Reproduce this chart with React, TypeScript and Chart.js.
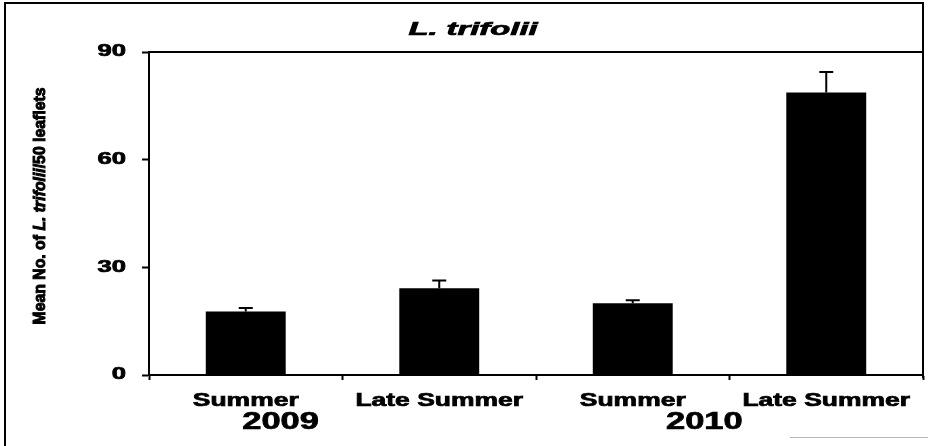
import React, { useEffect, useRef } from "react";
import { Chart, registerables } from "chart.js";

Chart.register(...registerables);

const categories = ["Summer", "Late Summer", "Summer", "Late Summer"];
const meanValues = [17.7, 24.2, 20.0, 78.7];
const errorValues = [1.0, 2.1, 0.8, 5.7];
const years = ["2009", "2010"];
const yearIndexPositions = [0.18, 2.37];
const yMin = 0;
const yMax = 90;
const yStep = 30;
const chartTitle = "L. trifolii";
const yTitleParts: [string, boolean][] = [
  ["Mean No. of ", false],
  ["L. trifolii", true],
  ["/50 leaflets", false],
];

const FAMILY = '"Liberation Sans", Arial, sans-serif';

function drawStretched(
  ctx: CanvasRenderingContext2D,
  text: string,
  x: number,
  y: number,
  font: string,
  stretch: number,
  align: "left" | "center" | "right"
) {
  ctx.save();
  ctx.font = font;
  ctx.textBaseline = "middle";
  ctx.textAlign = "left";
  const w = ctx.measureText(text).width * stretch;
  const x0 = align === "center" ? x - w / 2 : align === "right" ? x - w : x;
  ctx.translate(x0, y);
  ctx.scale(stretch, 1);
  ctx.fillStyle = "#000";
  ctx.strokeStyle = "#000";
  ctx.lineWidth = 0.7;
  ctx.fillText(text, 0, 0);
  ctx.strokeText(text, 0, 0);
  ctx.restore();
}

const decorPlugin = {
  id: "decor",
  afterDraw(chart: any) {
    const ctx: CanvasRenderingContext2D = chart.ctx;
    const area = chart.chartArea;
    const xs = chart.scales.x;
    const ys = chart.scales.y;

    ctx.save();
    ctx.strokeStyle = "#000";
    ctx.lineWidth = 2;
    // outer frame (left, top, right)
    ctx.beginPath();
    ctx.moveTo(5, 446);
    ctx.lineTo(5, 3);
    ctx.lineTo(area.right, 3);
    ctx.lineTo(area.right, area.bottom + 3);
    ctx.stroke();
    // plot top border
    ctx.beginPath();
    ctx.moveTo(area.left - 1, area.top);
    ctx.lineTo(area.right, area.top);
    ctx.stroke();
    // faint scan line bottom right
    ctx.strokeStyle = "#b8b8b8";
    ctx.lineWidth = 1;
    ctx.beginPath();
    ctx.moveTo(790, 437.5);
    ctx.lineTo(928, 437.5);
    ctx.stroke();
    ctx.restore();

    // title
    drawStretched(ctx, chartTitle, 473, 30, `italic bold 18px ${FAMILY}`, 1.82, "center");

    // y tick labels
    ys.ticks.forEach((t: any) => {
      const py = ys.getPixelForValue(t.value);
      drawStretched(ctx, String(t.value), 126, py, `bold 16px ${FAMILY}`, 1.6, "right");
    });

    // x category labels
    categories.forEach((c, i) => {
      const px = xs.getPixelForValue(i);
      drawStretched(ctx, c, px, 401, `bold 18px ${FAMILY}`, 1.47, "center");
    });

    // year labels
    years.forEach((yr, i) => {
      const px = xs.getPixelForValue(yearIndexPositions[i]);
      drawStretched(ctx, yr, px, 423, `bold 23px ${FAMILY}`, 1.5, "center");
    });

    // y axis title (rotated, mixed italic, condensed)
    ctx.save();
    const fontN = `bold 17px ${FAMILY}`;
    const fontI = `italic bold 17px ${FAMILY}`;
    let total = 0;
    const widths = yTitleParts.map(([s, it]) => {
      ctx.font = it ? fontI : fontN;
      const w = ctx.measureText(s).width;
      total += w;
      return w;
    });
    const targetLen = 237;
    const stretch = targetLen / total;
    ctx.translate(40, 206);
    ctx.rotate(-Math.PI / 2);
    ctx.scale(stretch, 1);
    ctx.textBaseline = "middle";
    ctx.textAlign = "left";
    ctx.fillStyle = "#000";
    ctx.strokeStyle = "#000";
    ctx.lineWidth = 1;
    let cx = -total / 2;
    yTitleParts.forEach(([s, it], i) => {
      ctx.font = it ? fontI : fontN;
      ctx.fillText(s, cx, 0);
      ctx.strokeText(s, cx, 0);
      cx += widths[i];
    });
    ctx.restore();
  },
  afterDatasetsDraw(chart: any) {
    const ctx: CanvasRenderingContext2D = chart.ctx;
    const ys = chart.scales.y;
    const meta = chart.getDatasetMeta(0);
    ctx.save();
    ctx.strokeStyle = "#000";
    ctx.lineWidth = 2;
    meta.data.forEach((bar: any, i: number) => {
      const top = ys.getPixelForValue(meanValues[i]);
      const up = ys.getPixelForValue(meanValues[i] + errorValues[i]);
      ctx.beginPath();
      ctx.moveTo(bar.x, top);
      ctx.lineTo(bar.x, up);
      ctx.moveTo(bar.x - 7, up);
      ctx.lineTo(bar.x + 7, up);
      ctx.stroke();
    });
    ctx.restore();
  },
};

export default function App() {
  const ref = useRef<HTMLCanvasElement | null>(null);
  useEffect(() => {
    document.body.style.margin = "0";
    const canvas = ref.current!;
    const chart = new Chart(canvas, {
      type: "bar",
      data: {
        labels: categories,
        datasets: [
          {
            data: meanValues,
            backgroundColor: "#000",
            borderWidth: 0,
            categoryPercentage: 1,
            barPercentage: 0.413,
          },
        ],
      },
      options: {
        responsive: false,
        animation: false,
        devicePixelRatio: 1,
        layout: { padding: { top: 52, left: 0, right: 5, bottom: 0 } },
        plugins: {
          legend: { display: false },
          title: { display: false },
          tooltip: { enabled: false },
        },
        scales: {
          x: {
            type: "category",
            afterFit: (s: any) => {
              s.height = 71;
            },
            grid: {
              offset: true,
              drawOnChartArea: false,
              drawTicks: true,
              tickLength: 5,
              tickColor: "#000",
              tickWidth: 2,
            },
            border: { display: true, color: "#000", width: 2 },
            ticks: { display: false },
          },
          y: {
            min: yMin,
            max: yMax,
            afterFit: (s: any) => {
              s.width = 149;
            },
            ticks: { stepSize: yStep, display: false },
            grid: {
              drawOnChartArea: false,
              drawTicks: true,
              tickLength: 7,
              tickColor: "#000",
              tickWidth: 2,
            },
            border: { display: true, color: "#000", width: 2 },
          },
        },
      } as any,
      plugins: [decorPlugin],
    });
    return () => chart.destroy();
  }, []);
  return (
    <div style={{ width: 928, height: 446 }}>
      <canvas ref={ref} width={928} height={446} style={{ display: "block", width: 928, height: 446 }} />
    </div>
  );
}
